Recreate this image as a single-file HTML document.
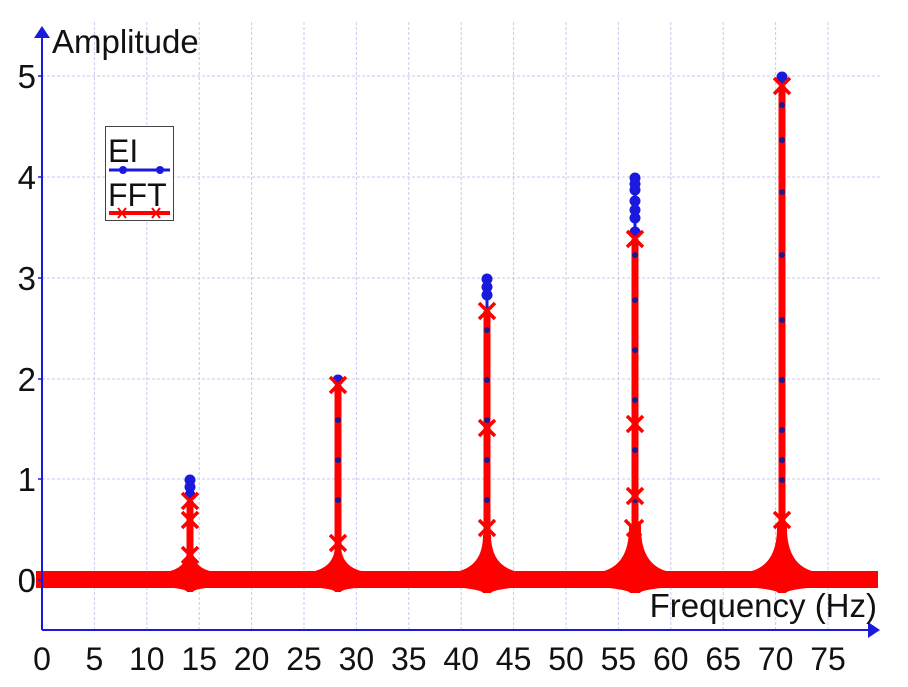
<!DOCTYPE html>
<html><head><meta charset="utf-8"><style>
html,body{margin:0;padding:0;background:#fff;}
svg{display:block;font-family:"Liberation Sans",sans-serif;}
</style></head><body>
<svg width="908" height="687" viewBox="0 0 908 687" xmlns="http://www.w3.org/2000/svg">
<g stroke="#c8c8f0" stroke-width="1" stroke-dasharray="3,2">
<line x1="94.4" y1="22" x2="94.4" y2="630"/><line x1="146.8" y1="22" x2="146.8" y2="630"/>
<line x1="199.2" y1="22" x2="199.2" y2="630"/><line x1="251.6" y1="22" x2="251.6" y2="630"/>
<line x1="304" y1="22" x2="304" y2="630"/><line x1="356.4" y1="22" x2="356.4" y2="630"/>
<line x1="408.8" y1="22" x2="408.8" y2="630"/><line x1="461.2" y1="22" x2="461.2" y2="630"/>
<line x1="513.6" y1="22" x2="513.6" y2="630"/><line x1="566" y1="22" x2="566" y2="630"/>
<line x1="618.4" y1="22" x2="618.4" y2="630"/><line x1="670.8" y1="22" x2="670.8" y2="630"/>
<line x1="723.2" y1="22" x2="723.2" y2="630"/><line x1="775.6" y1="22" x2="775.6" y2="630"/>
<line x1="828" y1="22" x2="828" y2="630"/>
<line x1="42" y1="76" x2="880" y2="76"/><line x1="42" y1="177" x2="880" y2="177"/>
<line x1="42" y1="278" x2="880" y2="278"/><line x1="42" y1="379" x2="880" y2="379"/>
<line x1="42" y1="479" x2="880" y2="479"/>
</g>
<!-- blue peaks -->
<g stroke="#1a1adc" stroke-width="3" fill="#1a1adc">
<line x1="190" y1="580" x2="190" y2="479"/><circle cx="190" cy="480" r="4"/><circle cx="190" cy="487" r="4"/><circle cx="190" cy="495" r="4"/>
<line x1="338" y1="580" x2="338" y2="379"/><circle cx="338" cy="380" r="4"/>
<line x1="487" y1="580" x2="487" y2="278"/><circle cx="487" cy="279" r="4"/><circle cx="487" cy="287" r="4"/><circle cx="487" cy="295" r="4"/>
<line x1="635" y1="580" x2="635" y2="177"/><circle cx="635" cy="178" r="4"/><circle cx="635" cy="184" r="4"/><circle cx="635" cy="190" r="4"/><circle cx="635" cy="201" r="4"/><circle cx="635" cy="210" r="4"/><circle cx="635" cy="218" r="4"/><circle cx="635" cy="232" r="4"/>
<line x1="782" y1="580" x2="782" y2="76"/><circle cx="782" cy="77" r="4"/>
</g>
<!-- red baseline -->
<rect x="36" y="571" width="842" height="17" fill="#f00"/>
<g fill="#f00">
<path d="M165 572 Q187 569 187 550 L193 550 Q193 569 215 572 L215 587 Q193 589 193 592 L187 592 Q187 589 165 587Z"/>
<path d="M310 572 Q335 568 335 545 L341 545 Q341 568 366 572 L366 587 Q341 589 341 592 L335 592 Q335 589 310 587Z"/>
<path d="M455 572 Q483 567 483 535 L491 535 Q491 567 519 572 L519 587 Q491 590 491 593 L483 593 Q483 590 455 587Z"/>
<path d="M600 572 Q630 566 629 525 L641 525 Q640 566 670 572 L670 587 Q640 590 640 593 L630 593 Q630 590 600 587Z"/>
<path d="M748 572 Q778 566 777 525 L787 525 Q786 566 816 572 L816 587 Q786 590 786 593 L778 593 Q778 590 748 587Z"/>
</g>
<g stroke="#f00" stroke-width="7">
<line x1="190" y1="580" x2="190" y2="501"/>
<line x1="338" y1="580" x2="338" y2="385"/>
<line x1="487" y1="580" x2="487" y2="311"/>
<line x1="635" y1="580" x2="635" y2="239"/>
<line x1="782" y1="580" x2="782" y2="86"/>
</g>
<g fill="#1a1a90">
<circle cx="782" cy="105" r="3"/><circle cx="782" cy="140" r="3"/><circle cx="782" cy="192" r="3"/><circle cx="782" cy="255" r="3"/><circle cx="782" cy="320" r="3"/><circle cx="782" cy="380" r="3"/><circle cx="782" cy="430" r="3"/><circle cx="782" cy="460" r="3"/><circle cx="782" cy="480" r="3"/>
<circle cx="635" cy="255" r="3"/><circle cx="635" cy="300" r="3"/><circle cx="635" cy="350" r="3"/><circle cx="635" cy="400" r="3"/><circle cx="635" cy="450" r="3"/><circle cx="635" cy="500" r="3"/>
<circle cx="487" cy="330" r="3"/><circle cx="487" cy="380" r="3"/><circle cx="487" cy="420" r="3"/><circle cx="487" cy="460" r="3"/><circle cx="487" cy="500" r="3"/>
<circle cx="338" cy="420" r="3"/><circle cx="338" cy="460" r="3"/><circle cx="338" cy="500" r="3"/>
</g>
<g stroke="#f00" stroke-width="3.5" fill="none">
<path d="M182 493 l16 16 M198 493 l-16 16 M182 512 l16 16 M198 512 l-16 16 M182 547 l16 16 M198 547 l-16 16"/>
<path d="M330 377 l16 16 M346 377 l-16 16 M330 535 l16 16 M346 535 l-16 16"/>
<path d="M479 303 l16 16 M495 303 l-16 16 M479 420 l16 16 M495 420 l-16 16 M479 520 l16 16 M495 520 l-16 16"/>
<path d="M627 231 l16 16 M643 231 l-16 16 M627 416 l16 16 M643 416 l-16 16 M627 488 l16 16 M643 488 l-16 16 M625 520 l16 16 M643 520 l-16 16"/>
<path d="M774 78 l16 16 M790 78 l-16 16 M774 512 l16 16 M790 512 l-16 16"/>
</g>
<!-- axes -->
<g stroke="#1a1adc" stroke-width="2" fill="#1a1adc">
<line x1="42" y1="36" x2="42" y2="630"/>
<line x1="42" y1="630" x2="868" y2="630"/>
<polygon points="42,26 34,38 50,38" stroke="none"/>
<polygon points="880,630 868,622 868,638" stroke="none"/>
<g stroke-width="1.5">
<line x1="38" y1="76" x2="42" y2="76"/><line x1="38" y1="177" x2="42" y2="177"/><line x1="38" y1="278" x2="42" y2="278"/><line x1="38" y1="379" x2="42" y2="379"/><line x1="38" y1="479" x2="42" y2="479"/><line x1="38" y1="580" x2="42" y2="580"/>
</g>
</g>
<g font-size="33" fill="#111" text-anchor="end">
<text x="36" y="88">5</text><text x="36" y="189">4</text><text x="36" y="290">3</text><text x="36" y="391">2</text><text x="36" y="491">1</text><text x="36" y="592">0</text>
</g>
<g font-size="32" fill="#111" text-anchor="middle">
<text x="42" y="670">0</text><text x="94.4" y="670">5</text><text x="146.8" y="670">10</text><text x="199.2" y="670">15</text><text x="251.6" y="670">20</text><text x="304" y="670">25</text><text x="356.4" y="670">30</text><text x="408.8" y="670">35</text><text x="461.2" y="670">40</text><text x="513.6" y="670">45</text><text x="566" y="670">50</text><text x="618.4" y="670">55</text><text x="670.8" y="670">60</text><text x="723.2" y="670">65</text><text x="775.6" y="670">70</text><text x="828" y="670">75</text>
</g>
<text x="52" y="53" font-size="33" fill="#111">Amplitude</text>
<text x="877" y="617" font-size="33" fill="#111" text-anchor="end">Frequency (Hz)</text>
<!-- legend -->
<rect x="105.5" y="126.5" width="68" height="94" fill="#fff" stroke="#444" stroke-width="1"/>
<text x="108" y="162" font-size="32" fill="#111">EI</text>
<line x1="109" y1="170" x2="170" y2="170" stroke="#1a1adc" stroke-width="3"/>
<circle cx="123" cy="170" r="4" fill="#1a1adc"/><circle cx="160" cy="170" r="4" fill="#1a1adc"/>
<text x="108" y="206" font-size="32" fill="#111">FFT</text>
<line x1="109" y1="213" x2="170" y2="213" stroke="#f00" stroke-width="4"/>
<path d="M118 208 l8 10 M126 208 l-8 10 M152 208 l8 10 M160 208 l-8 10" stroke="#f00" stroke-width="2"/>
</svg>
</body></html>
